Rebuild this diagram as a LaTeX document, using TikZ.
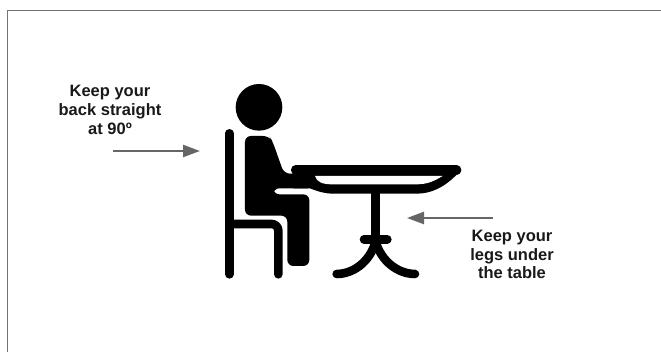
\documentclass[tikz,border=0pt]{standalone}
\usepackage{fontspec}
\setmainfont{Liberation Sans}
\usetikzlibrary{arrows.meta}
\definecolor{pointer}{gray}{0.4}
\definecolor{lbl}{gray}{0.1}
\tikzset{
  note/.style={font=\bfseries\fontsize{16.5}{18.8}\selectfont,text=lbl,align=center,inner sep=0pt},
  pointerline/.style={draw=pointer,line width=2.4pt,-{Triangle[length=17pt,width=12pt,fill=pointer]}},
  frameline/.style={draw=black!55,line width=1pt},
  ink/.style={draw=black,line cap=round,line join=round},
}
\begin{document}
\begin{tikzpicture}[x=1pt,y=-1pt]
\useasboundingbox (0,0) rectangle (661,352);
\fill[white] (0,0) rectangle (661,352);
\draw[frameline] (7.5,352) -- (7.5,10.5) -- (661,10.5);
\begin{scope}[shift={(210,75)},x=0.3333pt,y=-0.3333pt]
  % head
  \fill (147,97) circle (70);
  % chair
  \draw[ink,line width=8.6pt] (58,175) -- (58,598);
  \draw[ink,line width=8.6pt] (58,447) -- (185,447) to[out=0,in=90] (205,467) -- (205,598);
  % body
  \fill[rounded corners=6pt] (105,183) -- (178,183) -- (188,200) -- (222,296) -- (310,296) -- (310,340) -- (190,340) -- (190,358)
     -- (298,358) -- (298,573) -- (232,573) -- (232,422) -- (105,422) -- cycle;
  % table top with bowl
  \draw[ink,line width=9.5pt] (257,285) -- (740,285);
  \fill (250,295) -- (740,276) .. controls (752,276) and (758,296) .. (740,299)
     .. controls (700,340) and (660,356) .. (620,356) -- (370,356) .. controls (345,356) and (325,350) .. (300,340) -- (250,340) -- cycle;
  \fill[white] (315,303) -- (698,303) .. controls (670,320) and (650,328) .. (620,328) -- (365,328) .. controls (340,328) and (320,322) .. (315,303) -- cycle;
  % stem
  \draw[ink,line width=8.6pt,line cap=butt] (497,345) -- (497,500);
  \draw[ink,line width=8.6pt] (462,493) -- (532,493);
  \draw[ink,line width=8.6pt] (497,500) .. controls (480,560) and (430,597) .. (380,597);
  \draw[ink,line width=8.6pt] (497,500) .. controls (514,560) and (565,597) .. (615,597);
\end{scope}
\coordinate (a1s) at (113,151);
\coordinate (a1e) at (200,151);
\coordinate (a2s) at (493,218);
\coordinate (a2e) at (407,218);
\draw[pointerline] (a1s) -- (a1e);
\draw[pointerline] (a2s) -- (a2e);
\node[note] (backnote) at (110,110) {Keep your\\back straight\\at 90º};
\node[note] (legsnote) at (512,254.5) {Keep your\\legs under\\the table};
\end{tikzpicture}
\end{document}
